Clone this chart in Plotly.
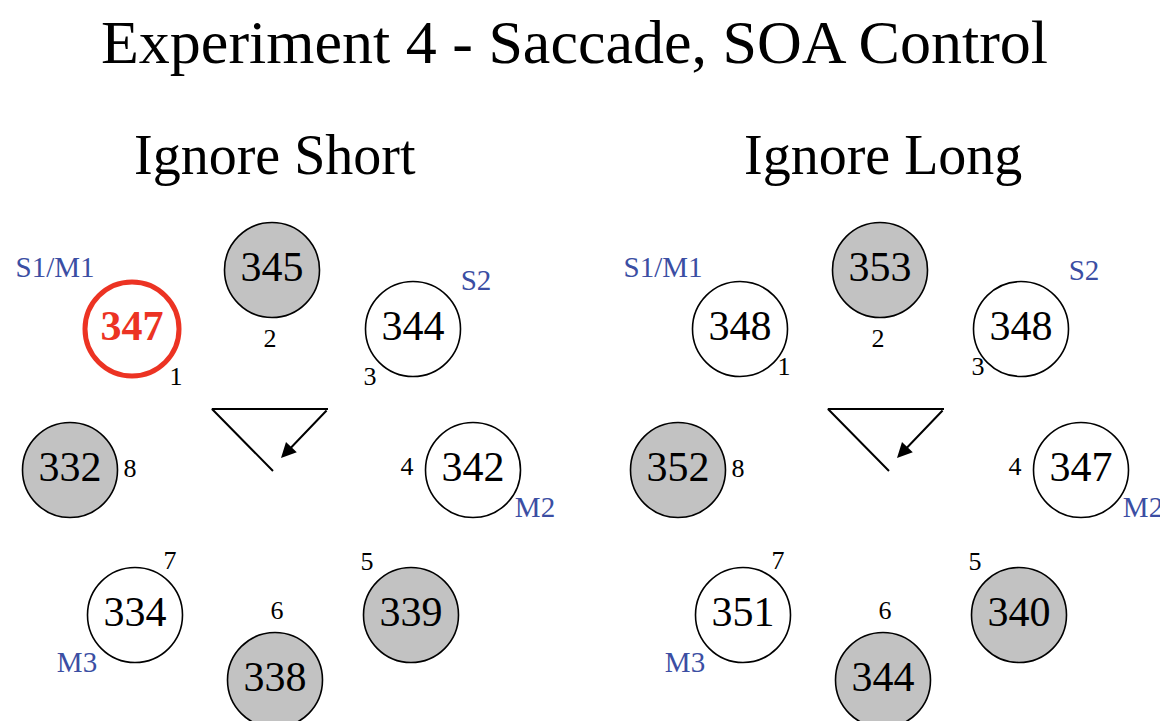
import plotly.graph_objects as go

# RT (ms) at each of the 8 target locations, location 1..8
positions = ["1", "2", "3", "4", "5", "6", "7", "8"]
ignore_short = [347, 345, 344, 342, 339, 338, 334, 332]
ignore_long = [348, 353, 348, 347, 340, 344, 351, 352]
shaded = ["2", "5", "6", "8"]
roles = {"1": "S1/M1", "3": "S2", "4": "M2", "7": "M3"}
highlight_short = "1"

# page layout (pixels), relative to a panel's centre line
ring_dx = [-140, 0, 141, 201, 139, 3, -137, -202]
ring_y = [329, 270, 329, 470, 615, 680, 615, 470]
num_dx = [-96, -2, 98, 135, 95, 5, -102, -142]
num_y = [378, 340, 378, 468, 563, 612, 562, 470]
role_dx = {"1": -217, "3": 204, "4": 263, "7": -195}
role_y = {"1": 270, "3": 283, "4": 510, "7": 665}

serif = "Liberation Serif"
grey = "#c2c2c2"
blue = "#3b4ea3"
red = "#ec3323"

fig = go.Figure()


def add_panel(cx, values, title, highlight=None, cue_dx=0, label_dy=0):
    for i, p in enumerate(positions):
        hot = p == highlight
        fig.add_trace(go.Scatter(
            x=[cx + ring_dx[i]], y=[ring_y[i]], mode="markers+text",
            text=[str(values[i])], textposition="middle center",
            textfont=dict(family=serif, size=42, color=red if hot else "black",
                          weight="bold" if hot else "normal"),
            marker=dict(size=94 if hot else 95,
                        color=grey if p in shaded else "white",
                        line=dict(color=red if hot else "black", width=5 if hot else 1.6)),
            showlegend=False, hoverinfo="skip"))
    ny = [y - label_dy if p in ("1", "3") else y for p, y in zip(positions, num_y)]
    fig.add_trace(go.Scatter(
        x=[cx + d for d in num_dx], y=ny, mode="text", text=positions,
        textfont=dict(family=serif, size=26, color="black"),
        showlegend=False, hoverinfo="skip"))
    keys = list(roles)
    fig.add_trace(go.Scatter(
        x=[cx + role_dx[k] for k in keys],
        y=[role_y[k] - (label_dy if k == "3" else 0) for k in keys], mode="text",
        text=[roles[k] for k in keys],
        textfont=dict(family=serif, size=29, color=blue),
        showlegend=False, hoverinfo="skip"))
    # saccade direction cue
    tx = cx + cue_dx
    fig.add_trace(go.Scatter(
        x=[tx + 56, tx - 60, tx + 1], y=[409, 409, 471], mode="lines",
        line=dict(color="black", width=2), showlegend=False, hoverinfo="skip"))
    fig.add_annotation(x=tx + 9, y=458, ax=tx + 56, ay=409, xref="x", yref="y",
                       axref="x", ayref="y", text="", showarrow=True,
                       arrowhead=2, arrowsize=1.5, arrowwidth=2, arrowcolor="black")
    fig.add_annotation(x=cx + 3, y=155, text=title, showarrow=False,
                       font=dict(family=serif, size=56, color="black"))


add_panel(272, ignore_short, "Ignore Short", highlight_short)
add_panel(880, ignore_long, "Ignore Long", cue_dx=8, label_dy=10)

fig.add_annotation(x=574, y=42, text="Experiment 4 - Saccade, SOA Control", showarrow=False,
                   font=dict(family=serif, size=62, color="black"))

# the page body has an 8px margin: shift the axes so data units equal page pixels
fig.update_xaxes(range=[8, 1168], visible=False)
fig.update_yaxes(range=[721, 8], visible=False)
fig.update_layout(width=1160, height=713, margin=dict(l=0, r=0, t=0, b=0),
                  plot_bgcolor="white", paper_bgcolor="white")

fig.write_html("out.html")
